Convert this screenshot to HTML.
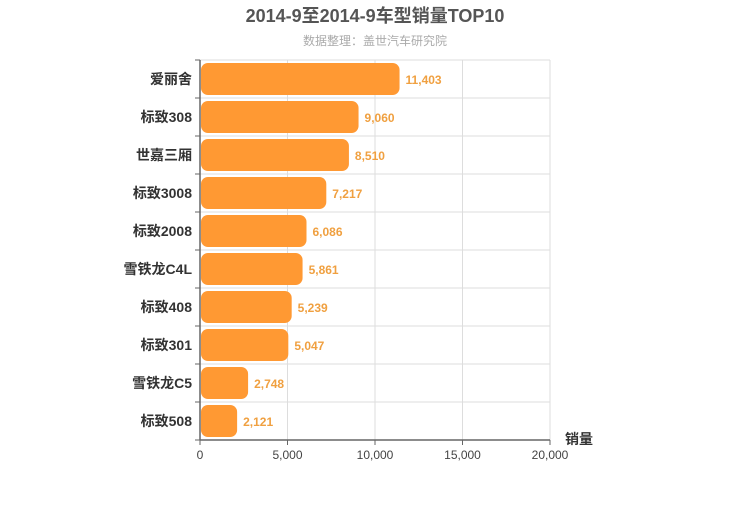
<!DOCTYPE html>
<html><head><meta charset="utf-8"><style>
body{margin:0;background:#fff;}
svg text{font-family:"Liberation Sans","Noto Sans CJK SC",sans-serif;}
</style></head><body>
<svg id="chart" width="750" height="500" xmlns="http://www.w3.org/2000/svg">
<text x="375" y="22" text-anchor="middle" font-size="18" font-weight="bold" fill="#555">2014-9至2014-9车型销量TOP10</text>
<text x="375" y="45" text-anchor="middle" font-size="12" fill="#aaa">数据整理：盖世汽车研究院</text>
<g id="grid"></g><g id="bars"></g><g id="axes"></g>
<text x="565" y="444" font-size="14" font-weight="bold" fill="#333">销量</text>
</svg>
<script>
const categories=["爱丽舍","标致308","世嘉三厢","标致3008","标致2008","雪铁龙C4L","标致408","标致301","雪铁龙C5","标致508"];
const sales=[11403,9060,8510,7217,6086,5861,5239,5047,2748,2121];
const xTicks=[0,5000,10000,15000,20000];
const NS="http://www.w3.org/2000/svg";
const L=200,R=550,T=60,B=440,xMax=20000;
const x=v=>L+(R-L)*v/xMax;
const rowH=(B-T)/categories.length;
const y=i=>T+rowH*i;
function mk(tag,attrs,parent){const e=document.createElementNS(NS,tag);for(const k in attrs)e.setAttribute(k,attrs[k]);parent.appendChild(e);return e;}
const grid=document.getElementById('grid'),bars=document.getElementById('bars'),axes=document.getElementById('axes');
xTicks.forEach(t=>{
 const g=mk('line',{x1:x(t),x2:x(t),y1:T,y2:B,stroke:'#ddd','stroke-width':1},grid);
 
 
 const tl=mk('text',{x:x(t),y:B+19,'text-anchor':'middle','font-size':12,fill:'#444'},axes);
 tl.textContent=t.toLocaleString('en-US');
 
 
 const tk=mk('line',{x1:x(t),x2:x(t),y1:B,y2:B+5,stroke:'#666'},axes);
 
 
});
for(let i=0;i<=categories.length;i++){
 const g=mk('line',{x1:L,x2:R,y1:y(i),y2:y(i),stroke:'#ddd'},grid);
 
 
 const tk=mk('line',{x1:L-5,x2:L,y1:y(i),y2:y(i),stroke:'#666'},axes);
 
 
}
categories.forEach((c,i)=>{
 const cy=y(i)+rowH/2;
 const b=mk('rect',{x:L+1,y:cy-16,width:x(sales[i])-L-1,height:32,rx:7,fill:'#ff9933'},bars);
 
 
 const v=mk('text',{x:x(sales[i])+6,y:cy+5,'font-size':12,'font-weight':'bold',fill:'#f0a040'},bars);
 v.textContent=sales[i].toLocaleString('en-US');
 
 
 const l=mk('text',{x:L-8,y:cy+5,'text-anchor':'end','font-size':14,'font-weight':'bold',fill:'#333'},axes);
 l.textContent=c;
 
 
});
const ya=mk('line',{x1:L,x2:L,y1:T,y2:B,stroke:'#666','stroke-width':1.5},axes);


const xa=mk('line',{x1:L,x2:R,y1:B,y2:B,stroke:'#666','stroke-width':1.5},axes);


</script>
</body></html>
